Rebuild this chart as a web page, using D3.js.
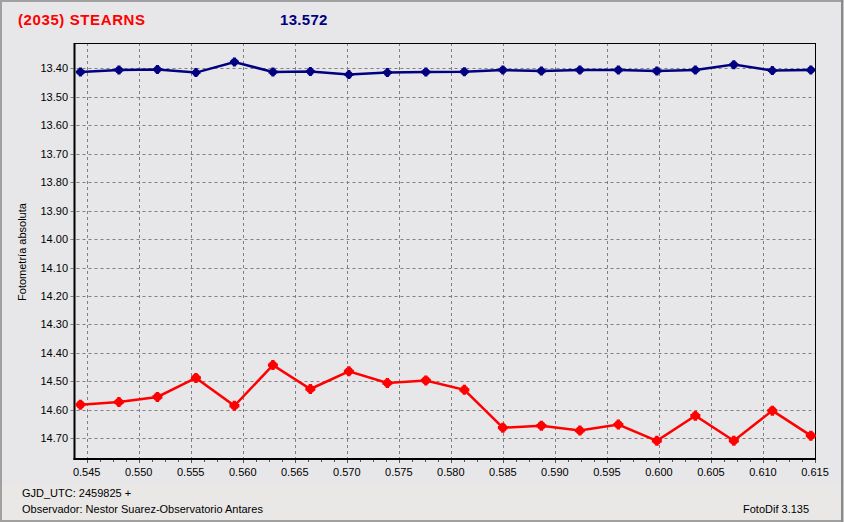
<!DOCTYPE html>
<html><head><meta charset="utf-8">
<script src="https://cdn.jsdelivr.net/npm/d3@7"></script>
<style>
html,body{margin:0;padding:0;background:#e7e7e9;}
svg{display:block;}
text{font-family:"Liberation Sans",Arial,sans-serif;}
</style></head><body>
<svg id="c" width="844" height="522"></svg>
<script>
// ---- data ----
const xValues = [0.5444,0.5481,0.5518,0.5555,0.5592,0.5629,0.5665,0.5702,0.5739,0.5776,
                 0.5813,0.5850,0.5887,0.5924,0.5961,0.5998,0.6035,0.6072,0.6109,0.6146];
const blueValues = [13.413,13.406,13.404,13.415,13.378,13.413,13.411,13.422,13.415,13.413,
                    13.412,13.406,13.409,13.406,13.406,13.409,13.406,13.387,13.408,13.406];
const redValues = [14.582,14.573,14.555,14.488,14.586,14.443,14.527,14.465,14.506,14.497,
                   14.530,14.663,14.656,14.673,14.652,14.709,14.621,14.709,14.603,14.691];
const xTicks = [0.545,0.550,0.555,0.560,0.565,0.570,0.575,0.580,0.585,0.590,0.595,0.600,0.605,0.610,0.615];
const yTicks = [13.40,13.50,13.60,13.70,13.80,13.90,14.00,14.10,14.20,14.30,14.40,14.50,14.60,14.70];
const titleName = "(2035) STEARNS";
const titleMag = "13.572";
const yLabel = "Fotometría absoluta";
const footer1 = "GJD_UTC: 2459825 +";
const footer2 = "Observador: Nestor Suarez-Observatorio Antares";
const footerRight = "FotoDif 3.135";

const svg = d3.select("#c");
const W = 844, H = 522;
const L = 74.5, R = 815, T = 43, B = 459;

// background
svg.append("rect").attr("x",0).attr("y",0).attr("width",W).attr("height",H).attr("fill","#e7e7e9");
svg.append("rect").attr("x",0).attr("y",484).attr("width",W).attr("height",H-484).attr("fill","#e9e8e6");
// outer frame
svg.append("rect").attr("x",1).attr("y",1).attr("width",W-2.5).attr("height",H-2).attr("fill","none")
  .attr("stroke","#a0a0a0").attr("stroke-width",2);
svg.append("line").attr("x1",W-2).attr("x2",W-2).attr("y1",0).attr("y2",H).attr("stroke","#8a8a8a").attr("stroke-width",2);

const x = d3.scaleLinear().domain([0.54383,0.615]).range([L,R]);
const y = d3.scaleLinear().domain([13.311,14.773]).range([T,B]);

// grid
const g = svg.append("g");
g.selectAll(".vg").data(xTicks).join("line")
  .attr("x1",d=>Math.round(x(d))+0.5).attr("x2",d=>Math.round(x(d))+0.5)
  .attr("y1",T).attr("y2",B)
  .attr("stroke","#808080").attr("stroke-dasharray","3,3");
g.selectAll(".hg").data(yTicks).join("line")
  .attr("x1",L-4).attr("x2",R)
  .attr("y1",d=>Math.round(y(d))+0.5).attr("y2",d=>Math.round(y(d))+0.5)
  .attr("stroke","#808080").attr("stroke-dasharray","3,3");

// minor x ticks
const minor = d3.range(0.545,0.6151,0.00125);
g.selectAll(".mt").data(minor).join("line")
  .attr("x1",d=>Math.round(x(d))+0.5).attr("x2",d=>Math.round(x(d))+0.5)
  .attr("y1",B).attr("y2",B+3).attr("stroke","#555");
g.selectAll(".Mt").data(xTicks).join("line")
  .attr("x1",d=>Math.round(x(d))+0.5).attr("x2",d=>Math.round(x(d))+0.5)
  .attr("y1",B).attr("y2",B+4).attr("stroke","#555").attr("stroke-dasharray","2,1");

// frame of plot
svg.append("line").attr("x1",L).attr("x2",R).attr("y1",T+0.5).attr("y2",T+0.5).attr("stroke","#000");
svg.append("line").attr("x1",R+0.5).attr("x2",R+0.5).attr("y1",T).attr("y2",B).attr("stroke","#000");
svg.append("line").attr("x1",L).attr("x2",L).attr("y1",T).attr("y2",B+1).attr("stroke","#000").attr("stroke-width",2);
svg.append("line").attr("x1",L-1).attr("x2",R+1).attr("y1",B).attr("y2",B).attr("stroke","#000").attr("stroke-width",2);

// tick labels
svg.append("g").selectAll("text").data(xTicks).join("text")
  .attr("x",d=>x(d)).attr("y",476).attr("text-anchor","middle")
  .attr("font-size",11).attr("fill","#000").text(d=>d3.format(".3f")(d));
svg.append("g").selectAll("text").data(yTicks).join("text")
  .attr("x",68).attr("y",d=>y(d)+4).attr("text-anchor","end")
  .attr("font-size",11).attr("fill","#000").text(d=>d3.format(".2f")(d));

// series
function series(vals,color,s,r){
  const pts = xValues.map((v,i)=>[v,vals[i]]);
  svg.append("path").datum(pts)
    .attr("d",d3.line().x(d=>x(d[0])).y(d=>y(d[1])))
    .attr("fill","none").attr("stroke",color).attr("stroke-width",2.5);
  svg.append("g").selectAll("path").data(pts).join("path")
    .attr("transform",d=>`translate(${x(d[0])},${y(d[1])})`)
    .attr("d",d3.symbol().type(d3.symbolCross).size(5*(s/3)*(s/3)))
    .attr("fill",color);
  svg.append("g").selectAll("circle").data(pts).join("circle")
    .attr("cx",d=>x(d[0])).attr("cy",d=>y(d[1])).attr("r",r).attr("fill",color);
}
series(blueValues,"#000080",9,3.7);
series(redValues,"#ff0000",10,4.1);

// titles
svg.append("text").attr("x",18).attr("y",25).attr("font-size",15).attr("font-weight","bold")
  .attr("letter-spacing",0.6).attr("fill","#ff0000").text(titleName);
svg.append("text").attr("x",280).attr("y",25).attr("font-size",15).attr("font-weight","bold")
  .attr("letter-spacing",0.3).attr("fill","#000080").text(titleMag);

// y label
svg.append("text").attr("transform","translate(26,252) rotate(-90)")
  .attr("text-anchor","middle").attr("font-size",11).attr("fill","#000").text(yLabel);

// footers
svg.append("text").attr("x",22).attr("y",497).attr("font-size",11).attr("fill","#000").text(footer1);
svg.append("text").attr("x",22).attr("y",513).attr("font-size",11).attr("fill","#000").text(footer2);
svg.append("text").attr("x",743).attr("y",513).attr("font-size",11).attr("fill","#000").text(footerRight);
</script>
</body></html>
